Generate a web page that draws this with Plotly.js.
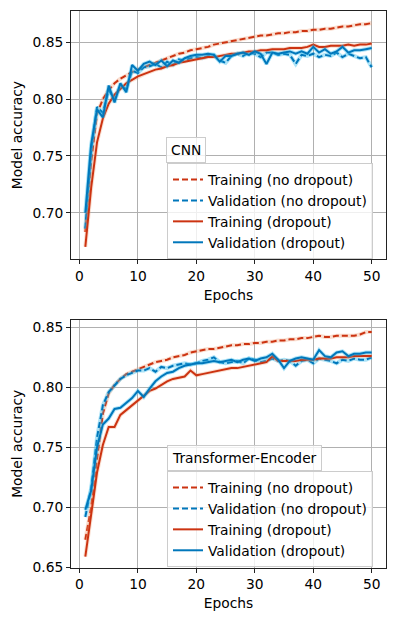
<!DOCTYPE html>
<html>
<head>
<meta charset="utf-8">
<script src="https://cdn.plot.ly/plotly-3.0.1.min.js"></script>
<style>html,body{margin:0;padding:0;background:#fff;}#chart{width:399px;height:626px;}</style>
</head>
<body>
<div id="chart"></div>
<script>
const epochs = [1,2,3,4,5,6,7,8,9,10,11,12,13,14,15,16,17,18,19,20,21,22,23,24,25,26,27,28,29,30,31,32,33,34,35,36,37,38,39,40,41,42,43,44,45,46,47,48,49,50];

// CNN
const cnnTrainNoDrop = [0.683,0.745,0.787,0.800,0.808,0.814,0.818,0.821,0.824,0.826,0.828,0.830,0.832,0.834,0.836,0.838,0.840,0.841,0.843,0.844,0.845,0.846,0.848,0.849,0.850,0.851,0.852,0.853,0.854,0.855,0.856,0.856,0.857,0.858,0.858,0.859,0.859,0.860,0.860,0.861,0.861,0.862,0.862,0.863,0.864,0.864,0.865,0.866,0.866,0.867];
const cnnValNoDrop = [0.686,0.755,0.793,0.788,0.808,0.800,0.812,0.809,0.825,0.823,0.828,0.829,0.831,0.828,0.833,0.830,0.835,0.834,0.836,0.837,0.836,0.838,0.839,0.834,0.832,0.838,0.840,0.838,0.841,0.840,0.837,0.841,0.841,0.839,0.840,0.839,0.831,0.839,0.838,0.840,0.837,0.839,0.838,0.841,0.837,0.840,0.838,0.836,0.837,0.828];
const cnnTrainDrop = [0.670,0.722,0.762,0.783,0.796,0.804,0.809,0.814,0.817,0.820,0.822,0.824,0.826,0.827,0.829,0.830,0.832,0.833,0.834,0.835,0.836,0.837,0.837,0.838,0.839,0.840,0.840,0.841,0.842,0.842,0.843,0.843,0.844,0.844,0.844,0.845,0.845,0.845,0.846,0.848,0.846,0.846,0.847,0.847,0.847,0.848,0.847,0.848,0.848,0.849];
const cnnValDrop = [0.700,0.760,0.791,0.784,0.812,0.797,0.814,0.806,0.830,0.825,0.831,0.833,0.830,0.834,0.829,0.834,0.832,0.836,0.838,0.839,0.839,0.840,0.839,0.833,0.838,0.838,0.840,0.841,0.839,0.842,0.840,0.831,0.841,0.840,0.841,0.842,0.840,0.842,0.840,0.846,0.841,0.844,0.840,0.842,0.846,0.841,0.843,0.843,0.844,0.845];

// Transformer-Encoder
const trTrainNoDrop = [0.673,0.700,0.740,0.778,0.795,0.802,0.807,0.811,0.813,0.815,0.817,0.819,0.821,0.822,0.823,0.825,0.826,0.827,0.829,0.830,0.831,0.832,0.832,0.833,0.834,0.835,0.835,0.836,0.836,0.837,0.837,0.838,0.838,0.839,0.839,0.840,0.840,0.841,0.841,0.842,0.843,0.842,0.842,0.843,0.843,0.843,0.843,0.844,0.846,0.846];
const trValNoDrop = [0.692,0.716,0.758,0.785,0.796,0.802,0.807,0.810,0.812,0.814,0.814,0.816,0.813,0.817,0.816,0.818,0.819,0.820,0.819,0.820,0.822,0.823,0.825,0.821,0.820,0.821,0.822,0.820,0.824,0.823,0.821,0.822,0.824,0.822,0.823,0.822,0.818,0.822,0.823,0.820,0.824,0.823,0.822,0.820,0.823,0.822,0.824,0.823,0.823,0.825];
const trTrainDrop = [0.659,0.695,0.729,0.752,0.767,0.767,0.777,0.781,0.785,0.789,0.793,0.797,0.799,0.802,0.805,0.807,0.808,0.809,0.814,0.810,0.811,0.812,0.813,0.814,0.815,0.816,0.816,0.817,0.818,0.819,0.820,0.821,0.826,0.822,0.822,0.822,0.822,0.823,0.823,0.823,0.824,0.824,0.824,0.825,0.825,0.825,0.826,0.826,0.826,0.826];
const trValDrop = [0.698,0.714,0.750,0.769,0.774,0.782,0.783,0.787,0.791,0.797,0.792,0.799,0.805,0.809,0.812,0.813,0.816,0.818,0.819,0.820,0.820,0.821,0.822,0.821,0.822,0.823,0.821,0.823,0.824,0.822,0.824,0.825,0.828,0.823,0.816,0.822,0.824,0.825,0.824,0.823,0.831,0.826,0.825,0.829,0.830,0.826,0.828,0.828,0.829,0.829];

const seriesNames = ["Training (no dropout)","Validation (no dropout)","Training (dropout)","Validation (dropout)"];
const panelTitles = ["CNN","Transformer-Encoder"];
const xTicks = [0,10,20,30,40,50];
const yTicksTop = [0.70,0.75,0.80,0.85];
const yTicksBottom = [0.65,0.70,0.75,0.80,0.85];

const RED = "#CC3311", BLUE = "#0077BB";
const HALO = {red:"rgba(240,160,120,0.35)", blue:"rgba(51,187,238,0.4)"};
const W = 399, H = 626;
const FONT = "DejaVu Sans, sans-serif";
const FS = 13.8, LFS = 13.8;

function addSeries(traces, y, name, color, halo, dash, xa, ya, legend) {
  traces.push({x:epochs, y:y, type:"scatter", mode:"lines", xaxis:xa, yaxis:ya,
    line:{color:halo, width:4}, showlegend:false, hoverinfo:"skip"});
  traces.push({x:epochs, y:y, type:"scatter", mode:"lines", xaxis:xa, yaxis:ya, name:name,
    line:{color:color, width:2, dash:dash}, legend:legend});
}

const traces = [];
const panels = [
  {data:[cnnTrainNoDrop,cnnValNoDrop,cnnTrainDrop,cnnValDrop], xa:"x", ya:"y", legend:"legend"},
  {data:[trTrainNoDrop,trValNoDrop,trTrainDrop,trValDrop], xa:"x2", ya:"y2", legend:"legend2"}
];
panels.forEach(p => {
  const styles = [[RED,HALO.red,"6px,3px"],[BLUE,HALO.blue,"6px,3px"],[RED,HALO.red,"solid"],[BLUE,HALO.blue,"solid"]];
  p.data.forEach((d,i) => addSeries(traces, d, seriesNames[i], styles[i][0], styles[i][1], styles[i][2], p.xa, p.ya, p.legend));
});

function xaxis(anchor) {
  return {domain:[71/W, 386/W], anchor:anchor, range:[-1.45,52.45], tickvals:xTicks, ticktext:xTicks.map(String),
    showline:true, mirror:true, linecolor:"#222", linewidth:1, ticks:"outside", ticklen:4, tickcolor:"#222",
    showgrid:true, gridcolor:"#b0b0b0", gridwidth:1, zeroline:false,
    tickfont:{family:FONT, size:FS, color:"#000"},
    title:{text:"Epochs", font:{family:FONT, size:FS, color:"#000"}, standoff:7}};
}
function yaxis(domain, range, ticks, anchor) {
  return {domain:domain, anchor:anchor, range:range, tickvals:ticks, ticktext:ticks.map(v=>v.toFixed(2)),
    showline:true, mirror:true, linecolor:"#222", linewidth:1, ticks:"outside", ticklen:4, tickcolor:"#222",
    showgrid:true, gridcolor:"#b0b0b0", gridwidth:1, zeroline:false,
    tickfont:{family:FONT, size:FS, color:"#000"},
    title:{text:"Model accuracy", font:{family:FONT, size:FS, color:"#000"}, standoff:6}};
}

const legendStyle = (xb, yc) => ({x:xb, y:yc, xanchor:"left", yanchor:"middle", bgcolor:"rgba(255,255,255,0.8)",
  bordercolor:"#cccccc", borderwidth:1, font:{family:FONT, size:LFS, color:"#000"}, tracegroupgap:0});

const layout = {
  width:W, height:H, margin:{l:0,r:0,t:0,b:0}, paper_bgcolor:"#fff", plot_bgcolor:"#fff",
  font:{family:FONT, color:"#000"},
  xaxis: xaxis("y"),
  yaxis: yaxis([1-259.3/H, 1-11/H], [0.659,0.8776], yTicksTop, "x"),
  xaxis2: xaxis("y2"),
  yaxis2: yaxis([1-567.7/H, 1-320/H], [0.6497,0.8561], yTicksBottom, "x2"),
  legend: legendStyle(167/W, 1-211/H),
  legend2: legendStyle(167/W, 1-519/H),
  annotations: [
    {text:panelTitles[0], xref:"paper", yref:"paper", x:166/W, y:1-163/H, xanchor:"left", yanchor:"bottom", showarrow:false,
     font:{family:FONT, size:LFS, color:"#000"}, bgcolor:"rgba(255,255,255,0.8)", bordercolor:"#cccccc", borderwidth:1, borderpad:4},
    {text:panelTitles[1], xref:"paper", yref:"paper", x:167/W, y:1-471/H, xanchor:"left", yanchor:"bottom", showarrow:false,
     font:{family:FONT, size:LFS, color:"#000"}, bgcolor:"rgba(255,255,255,0.8)", bordercolor:"#cccccc", borderwidth:1, borderpad:4}
  ]
};

Plotly.newPlot("chart", traces, layout, {staticPlot:true, displayModeBar:false});
</script>
</body>
</html>
